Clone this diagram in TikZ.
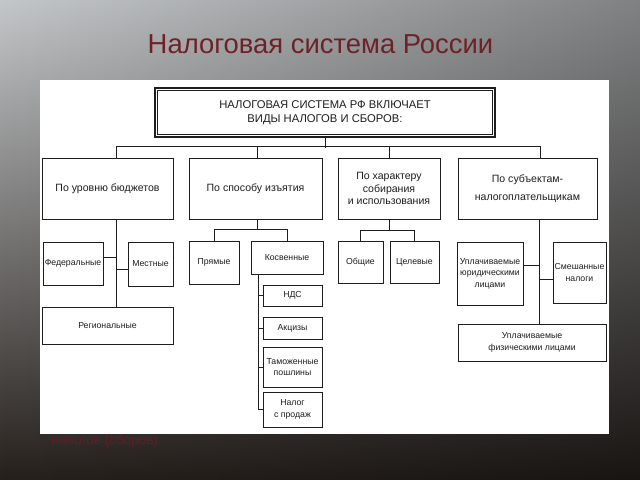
\documentclass[tikz,border=0pt]{standalone}
\usepackage{fontspec}
\setmainfont{Liberation Sans}
\usetikzlibrary{fadings}
\definecolor{titlered}{RGB}{110,34,40}
\definecolor{notered}{RGB}{96,30,34}
\definecolor{skytop}{RGB}{196,199,201}
\definecolor{skymid}{RGB}{122,120,117}
\definecolor{skybot}{RGB}{38,32,28}
\definecolor{ink}{RGB}{30,30,30}
\tikzset{
  box/.style={draw=ink, line width=0.6pt, fill=white, text=ink, align=center, inner sep=1pt},
  wh/.style 2 args={minimum width=#1*0.025cm, minimum height=#2*0.025cm},
  bigtxt/.style={font=\fontsize{7.5}{9}\selectfont},
  smalltxt/.style={font=\fontsize{6.2}{8.2}\selectfont},
  link/.style={draw=ink, line width=0.6pt}
}

\begin{document}
\begin{tikzpicture}[x=0.025cm, y=-0.025cm]
\useasboundingbox (0,0) rectangle (640,480);
%%% Draws background and panel
\shade[top color=skytop, middle color=skymid, bottom color=skybot] (0,0) rectangle (640,480);
\fill[black, opacity=0.35, path fading=west] (0,0) rectangle (640,480);
\node[titlered, font=\fontsize{19.5}{22}\selectfont, anchor=base] (title) at (320.5,53) {Налоговая система России};
\node[notered, font=\fontsize{9.6}{11}\selectfont, anchor=base west, inner sep=0pt] (note) at (51,444) {налогов (сборов).};
\fill[white] (40,80) rectangle (609,434);
%%% Draws top box
\node[box, wh={340}{49}, line width=1.4pt, font=\fontsize{8}{10}\selectfont] (sys) at (325,112.5) {НАЛОГОВАЯ СИСТЕМА РФ ВКЛЮЧАЕТ\\ВИДЫ НАЛОГОВ И СБОРОВ:};
\draw[ink, line width=0.5pt] ([shift={(3.5,3.5)}]sys.north west) rectangle ([shift={(-3.5,-3.5)}]sys.south east);
%%% Draws first level
\node[box, bigtxt, wh={131}{61}] (budg) at (107.5,188.5) {По уровню бюджетов};
\node[box, bigtxt, wh={133}{61}] (sposob) at (255.5,188.5) {По способу изъятия};
\node[box, bigtxt, wh={102}{61}] (harakt) at (389,188.5) {По характеру\\собирания\\и использования};
\node[box, bigtxt, wh={139}{61}] (subj) at (527.5,188.5) {По субъектам-\\[4pt]налогоплательщикам};
% draws bus
\draw[link] (sys.south) -- ++(0,10);
\draw[link] ([shift={(8.5,0)}]budg.north) |- ([shift={(12.5,-11)}]subj.north) -- ([shift={(12.5,0)}]subj.north);
\draw[link] ([shift={(1.5,0)}]sposob.north) -- ++(0,-11);
\draw[link] (harakt.north) -- ++(0,-11);
%%% Draws budget branch
\node[box, smalltxt, wh={60}{43}] (fed) at (73,263.5) {Федеральные};
\node[box, smalltxt, wh={45}{44}] (mest) at (150.5,264) {Местные};
\node[box, smalltxt, wh={131}{37}] (reg) at (107.5,325.5) {Региональные};
\draw[link] ([shift={(8.5,0)}]budg.south) -- ([shift={(8.5,0)}]reg.north);
\draw[link] ([shift={(0,-6.5)}]fed.east) -- ++(13,0);
\draw[link] ([shift={(0,5)}]mest.west) -- ++(-12,0);
%%% Draws way branch
\node[box, smalltxt, wh={50}{43}] (pryam) at (214,262.5) {Прямые};
\node[box, smalltxt, wh={72}{33}] (kosv) at (287,257.5) {Косвенные};
\draw[link] ([shift={(1.5,0)}]sposob.south) -- ++(0,10) coordinate (sp2);
\draw[link] (pryam.north) |- (sp2) -| (kosv.north);
% indirect taxes
\node[box, smalltxt, wh={59}{21}] (nds) at (292.5,295.5) {НДС};
\node[box, smalltxt, wh={59}{22}] (akciz) at (292.5,328) {Акцизы};
\node[box, smalltxt, wh={59}{40}] (tamozh) at (292.5,367) {Таможенные\\пошлины};
\node[box, smalltxt, wh={59}{35}] (prodazh) at (292.5,409.5) {Налог\\с продаж};
\draw[link] ([shift={(-29,0)}]kosv.south) |- (prodazh.west);
\foreach \n in {nds,akciz,tamozh}
  \draw[link] (\n.west) -- ++(-5,0);
%%% Draws purpose branch
\node[box, smalltxt, wh={45}{42}] (obsh) at (360.5,262) {Общие};
\node[box, smalltxt, wh={49}{42}] (celev) at (414.5,262) {Целевые};
\draw[link] (harakt.south) -- ++(0,11) coordinate (sp3);
\draw[link] (obsh.north) |- (sp3) -| (celev.north);
%%% Draws payer branch
\node[box, smalltxt, wh={66}{63}] (yur) at (490,273.5) {Уплачиваемые\\юридическими\\лицами};
\node[box, smalltxt, wh={53}{61}, inner xsep=0pt] (smesh) at (579.5,272.5) {Смешанные\\налоги};
\node[box, smalltxt, wh={148}{37}] (fiz) at (532,342.5) {Уплачиваемые\\физическими лицами};
\coordinate (sp4) at ([shift={(11.5,0)}]subj.south);
\draw[link] (sp4) -- (sp4 |- fiz.north);
\draw[link] ([shift={(0,-8.5)}]yur.east) -- ++(16,0);
\draw[link] ([shift={(0,6.5)}]smesh.west) -- ++(-14,0);
\end{tikzpicture}
\end{document}
